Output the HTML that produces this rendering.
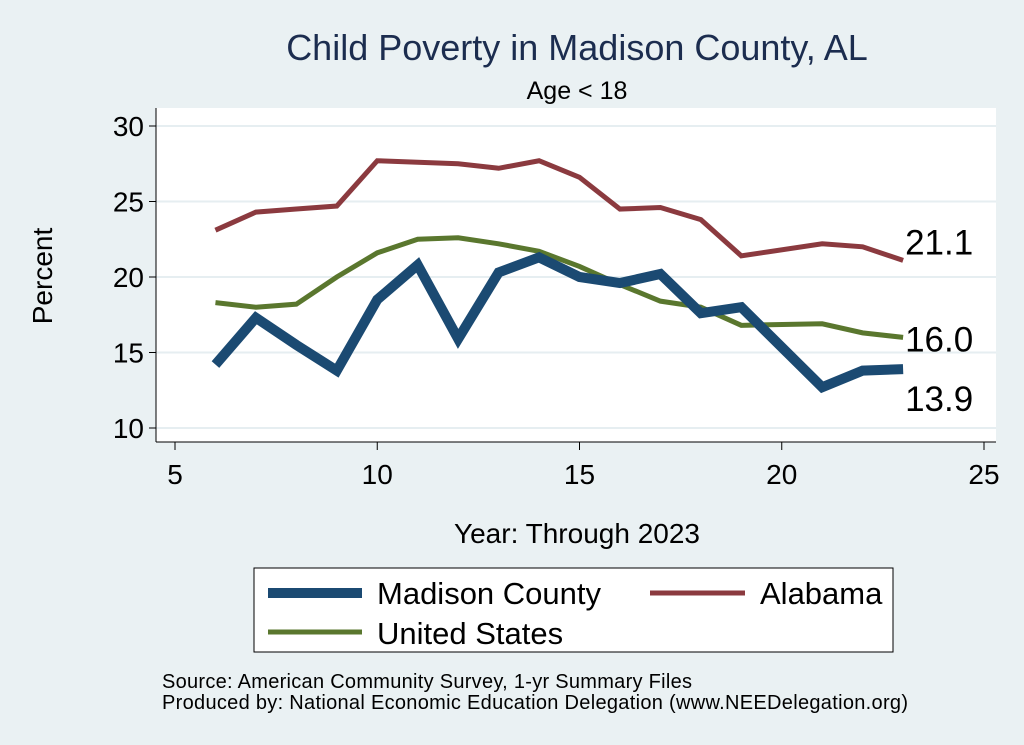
<!DOCTYPE html>
<html><head><meta charset="utf-8"><style>
body{margin:0;background:#eaf1f3;}
svg{display:block;font-family:"Liberation Sans",Arial,sans-serif;}
</style></head><body>
<svg id="c" width="1024" height="745">
<rect width="1024" height="745" fill="#eaf1f3"/>
<text x="577" y="60" font-size="36" fill="#1c2d4f" text-anchor="middle">Child Poverty in Madison County, AL</text>
<text x="577" y="99" font-size="25" fill="#000" text-anchor="middle">Age &lt; 18</text>
<rect x="156" y="108" width="840" height="334" fill="#fff"/>
<g id="grid"></g><g id="axes"></g><g id="series"></g>
<text x="52" y="276" font-size="28" text-anchor="middle" transform="rotate(-90 52 276)">Percent</text>
<text x="577" y="543" font-size="28" text-anchor="middle">Year: Through 2023</text>
<g>
<rect x="254" y="568" width="639" height="84" fill="#fff" stroke="#000" stroke-width="1"/>
<line x1="268" y1="593" x2="362" y2="593" stroke="#1b4a72" stroke-width="10"/>
<text x="377" y="604" font-size="31">Madison County</text>
<line x1="650" y1="593" x2="745" y2="593" stroke="#8b3a3f" stroke-width="5"/>
<text x="760" y="604" font-size="31">Alabama</text>
<line x1="268" y1="632" x2="362" y2="632" stroke="#5a772e" stroke-width="5"/>
<text x="377" y="644" font-size="31">United States</text>
</g>
<text x="162" y="688" font-size="20" textLength="530">Source: American Community Survey, 1-yr Summary Files</text>
<text x="162" y="709" font-size="20" textLength="746">Produced by: National Economic Education Delegation (www.NEEDelegation.org)</text>
</svg>
<script>
const years=[6,7,8,9,10,11,12,13,14,15,16,17,18,19,21,22,23];
const madison=[14.2,17.3,15.5,13.8,18.5,20.8,15.9,20.3,21.3,20.0,19.6,20.2,17.6,18.0,12.7,13.8,13.9];
const alabama=[23.1,24.3,24.5,24.7,27.7,27.6,27.5,27.2,27.7,26.6,24.5,24.6,23.8,21.4,22.2,22.0,21.1];
const us=[18.3,18.0,18.2,20.0,21.6,22.5,22.6,22.2,21.7,20.7,19.5,18.4,18.0,16.8,16.9,16.3,16.0];
const xTicks=[5,10,15,20,25];
const yTicks=[10,15,20,25,30];
const ns="http://www.w3.org/2000/svg";
const X=v=>175+(v-5)*(984-175)/20;
const Y=v=>428-(v-10)*(428-126)/20;
function mk(t,a,p){const e=document.createElementNS(ns,t);for(const k in a)e.setAttribute(k,a[k]);p.appendChild(e);return e;}
const g=document.getElementById('grid'),ax=document.getElementById('axes'),s=document.getElementById('series');
yTicks.forEach(v=>{
 const l=mk('line',{x1:156,x2:996,y1:Y(v),y2:Y(v),stroke:'#e6eef1','stroke-width':2},g);
 
 
 const t=mk('line',{x1:149,x2:156,y1:Y(v),y2:Y(v),stroke:'#000'},ax);
 
 
 const tx=mk('text',{x:144,y:Y(v)+10,'font-size':28,'text-anchor':'end'},ax);tx.textContent=v;
 
 
});
xTicks.forEach(v=>{
 const t=mk('line',{x1:X(v),x2:X(v),y1:442,y2:450,stroke:'#000'},ax);
 
 
 const tx=mk('text',{x:X(v),y:484,'font-size':28,'text-anchor':'middle'},ax);tx.textContent=v;
 
 
});
const la=mk('line',{x1:156,x2:156,y1:108,y2:442,stroke:'#000'},ax);


const lb=mk('line',{x1:156,x2:996,y1:442,y2:442,stroke:'#000'},ax);


function line(vals,col,w,name,dy){
 const p=mk('polyline',{points:years.map((y,i)=>X(y)+','+Y(vals[i])).join(' '),fill:'none',stroke:col,'stroke-width':w,'stroke-linejoin':'miter'},s);
 
 
 const n=vals.length-1;
 const t=mk('text',{x:X(years[n])+2,y:Y(vals[n])+dy,'font-size':35},s);t.textContent=vals[n].toFixed(1);
 
 
}
line(alabama,'#8b3a3f',5,'alabama',-6);
line(us,'#5a772e',5,'us',14);
line(madison,'#1b4a72',10,'madison',42);
</script>
</body></html>
